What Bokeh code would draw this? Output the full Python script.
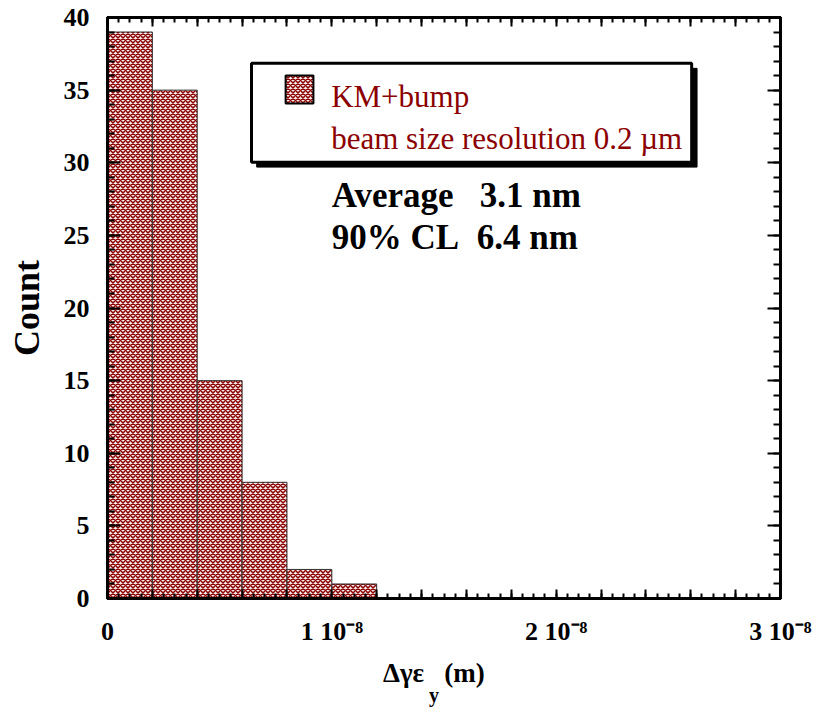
from bokeh.plotting import figure
from bokeh.models import (Range1d, FixedTicker, LinearAxis, BoxAnnotation, Label,
                          CustomJSTickFormatter)
from bokeh.embed import file_html
from bokeh.resources import INLINE

# ---- data ----
bin_edges = [0.0, 2e-9, 4e-9, 6e-9, 8e-9, 10e-9, 12e-9]
counts = [39, 35, 15, 8, 2, 1]
x_major_ticks = [i * 2 / 1e9 for i in range(16)]
x_minor_ticks = [i * 5 / 1e10 for i in range(61)]
x_label_values = [0.0, 1e-8, 2e-8, 3e-8]
x_tick_labels = ["0", "1 10\u207b\u2078", "2 10\u207b\u2078", "3 10\u207b\u2078"]
y_major_ticks = [0, 5, 10, 15, 20, 25, 30, 35, 40]
y_minor_ticks = list(range(41))
legend_lines = ["KM+bump", "beam size resolution 0.2 \u00b5m"]
stats_lines = ["Average\u00a0\u00a0\u00a03.1 nm", "90% CL\u00a0\u00a06.4 nm"]
NB = "\u00a0"
x_title = "\u0394\u03b3\u03b5" + NB * 3 + "(m)" + NB * 3
x_title_sub = "y" + NB * 4
y_title = "Count"

SERIF = "Liberation Serif"
DARKRED = "#8b0000"
FILL = "#f6eaea"

p = figure(frame_width=673, frame_height=581, output_backend="svg", toolbar_location=None,
           x_range=Range1d(0, 3e-8), y_range=Range1d(0, 40),
           x_axis_type=None, y_axis_type=None,
           min_border_left=107, min_border_right=35, min_border_top=17, min_border_bottom=0)
p.outline_line_color = "black"
p.outline_line_width = 3
p.background_fill_color = "white"
p.border_fill_color = "white"

xt = FixedTicker(ticks=x_major_ticks, minor_ticks=x_minor_ticks)
yt = FixedTicker(ticks=y_major_ticks, minor_ticks=y_minor_ticks)

xfmt = CustomJSTickFormatter(args=dict(vals=x_label_values, labels=x_tick_labels), code="""
for (let i = 0; i < vals.length; i++) {
  if (Math.abs(tick - vals[i]) < 1e-12) { return labels[i]; }
}
return "";
""")
blank = CustomJSTickFormatter(code="return '';")


def style_axis(ax, show_labels, tin, tmin):
    ax.axis_line_color = "black"
    ax.axis_line_width = 3
    ax.major_tick_in = tin
    ax.major_tick_out = 0
    ax.minor_tick_in = tmin
    ax.minor_tick_out = 0
    ax.major_tick_line_width = 2
    ax.minor_tick_line_width = 2
    ax.major_tick_line_color = "black"
    ax.minor_tick_line_color = "black"
    ax.major_label_text_font = SERIF
    ax.major_label_text_font_style = "bold"
    ax.major_label_text_font_size = "26px"
    ax.major_label_text_color = "black"
    ax.axis_label_text_font = SERIF
    ax.axis_label_text_font_style = "bold"
    ax.axis_label_text_color = "black"
    if not show_labels:
        ax.major_label_standoff = 0


xb = LinearAxis(ticker=xt, formatter=xfmt, axis_label=x_title)
style_axis(xb, True, 9, 5)
xb.major_label_standoff = 18
xb.axis_label_text_font_size = "27px"
xb.axis_label_standoff = 9
p.add_layout(xb, "below")

xsub = LinearAxis(ticker=FixedTicker(ticks=[]), formatter=blank, axis_label=x_title_sub)
xsub.axis_line_color = None
xsub.major_tick_line_color = None
xsub.minor_tick_line_color = None
xsub.major_label_standoff = 0
xsub.axis_label_text_font = SERIF
xsub.axis_label_text_font_style = "bold"
xsub.axis_label_text_font_size = "20px"
xsub.axis_label_text_color = "black"
xsub.axis_label_standoff = -7
p.add_layout(xsub, "below")

xa = LinearAxis(ticker=xt, formatter=blank)
style_axis(xa, False, 9, 5)
p.add_layout(xa, "above")

yl = LinearAxis(ticker=yt, axis_label=y_title)
style_axis(yl, True, 13, 7)
yl.major_label_standoff = 18
yl.axis_label_text_font_size = "36px"
yl.axis_label_standoff = 14
p.add_layout(yl, "left")

yr = LinearAxis(ticker=yt, formatter=blank)
style_axis(yr, False, 13, 7)
p.add_layout(yr, "right")

p.xgrid.visible = False
p.ygrid.ticker = FixedTicker(ticks=y_major_ticks)
p.ygrid.grid_line_color = "#2a2ad0"
p.ygrid.grid_line_dash = "4 3"
p.ygrid.grid_line_width = 1

p.quad(left=bin_edges[:-1], right=bin_edges[1:], bottom=0, top=counts,
       fill_color=FILL, hatch_pattern="diagonal_cross", hatch_color=DARKRED,
       hatch_scale=5, hatch_weight=1.5, line_color="#333333", line_width=1)

# legend box with shadow
p.add_layout(BoxAnnotation(left=0.665e-8, right=2.628e-8, top=36.5, bottom=29.7,
                           fill_color="black", fill_alpha=1, line_color="black", line_alpha=1))
p.add_layout(BoxAnnotation(left=0.642e-8, right=2.604e-8, top=36.85, bottom=30.04,
                           fill_color="white", fill_alpha=1, line_color="black",
                           line_alpha=1, line_width=3))
p.add_layout(BoxAnnotation(left=0.794e-8, right=0.918e-8, top=36.0, bottom=34.08,
                           fill_color=FILL, fill_alpha=1, hatch_pattern="diagonal_cross",
                           hatch_color=DARKRED, hatch_scale=5, hatch_weight=1.5,
                           line_color="black", line_alpha=1, line_width=2))
for txt, yy in zip(legend_lines, [34.53, 31.67]):
    p.add_layout(Label(x=0.997e-8, y=yy, text=txt, text_font=SERIF, text_font_size="31px",
                       text_color=DARKRED, text_baseline="middle"))
for txt, yy in zip(stats_lines, [27.75, 24.87]):
    p.add_layout(Label(x=1.0e-8, y=yy, text=txt, text_font=SERIF, text_font_size="35px",
                       text_font_style="bold", text_color="black", text_baseline="middle"))

open("out.html", "w").write(file_html(p, INLINE))
